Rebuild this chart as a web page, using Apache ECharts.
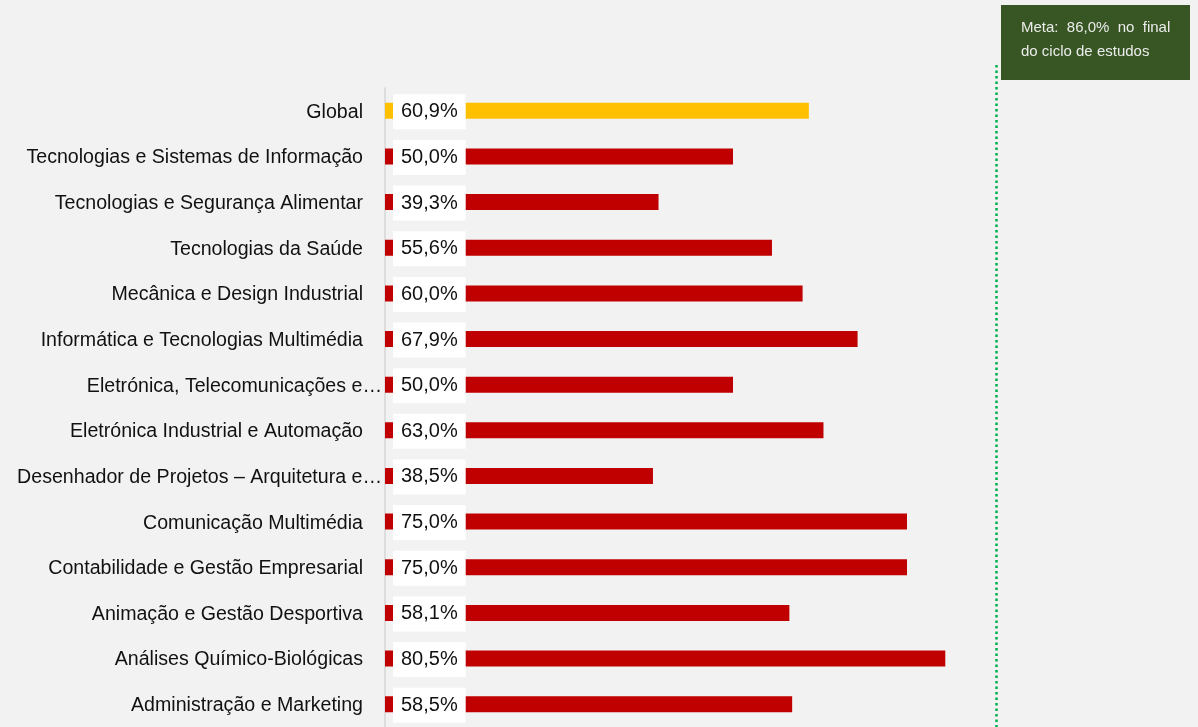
<!DOCTYPE html>
<html>
<head>
<meta charset="utf-8">
<script src="https://cdn.jsdelivr.net/npm/echarts@6/dist/echarts.min.js"></script>
<style>
  html, body {margin: 0; padding: 0; background: #f2f2f2;}
  #chart {width: 1198px; height: 727px;}
</style>
</head>
<body>
<div id="chart"></div>
<script>
const categories = [
  'Global',
  'Tecnologias e Sistemas de Informação',
  'Tecnologias e Segurança Alimentar',
  'Tecnologias da Saúde',
  'Mecânica e Design Industrial',
  'Informática e Tecnologias Multimédia',
  'Eletrónica, Telecomunicações e…',
  'Eletrónica Industrial e Automação',
  'Desenhador de Projetos – Arquitetura e…',
  'Comunicação Multimédia',
  'Contabilidade e Gestão Empresarial',
  'Animação e Gestão Desportiva',
  'Análises Químico-Biológicas',
  'Administração e Marketing'
];
const values = [60.9, 50.0, 39.3, 55.6, 60.0, 67.9, 50.0, 63.0, 38.5, 75.0, 75.0, 58.1, 80.5, 58.5];
const metaTarget = 86.0;
// where the dotted target line sits on the value scale in the picture
const metaLineAt = 87.8;
const metaText = 'Meta:  ' + metaTarget.toFixed(1).replace('.', ',') + '%  no  final\ndo ciclo de estudos';

const fmt = v => v.toFixed(1).replace('.', ',') + '%';

const myChart = echarts.init(document.getElementById('chart'));
myChart.setOption({
  backgroundColor: '#f2f2f2',
  animation: false,
  textStyle: {fontFamily: 'Arial, "Liberation Sans", sans-serif'},
  grid: {left: 385, right: 117, top: 88, bottom: -1},
  xAxis: {
    type: 'value',
    min: 0,
    max: 100,
    show: false
  },
  yAxis: {
    type: 'category',
    inverse: true,
    data: categories,
    axisLine: {show: true, lineStyle: {color: '#d6d6d6', width: 1.5}},
    axisTick: {show: false},
    axisLabel: {
      color: '#111',
      fontSize: 19.6,
      margin: 3,
      padding: [3, 0, 0, 0],
      formatter(v) {
        return v.endsWith('…') ? v : v + '{g|}';
      },
      rich: {g: {width: 19}}
    }
  },
  series: [{
    type: 'bar',
    data: values.map((v, i) => ({
      value: v,
      itemStyle: {color: i === 0 ? '#ffc000' : '#c00000'}
    })),
    barWidth: 16,
    label: {
      show: true,
      position: 'insideLeft',
      distance: 8,
      offset: [0, 1],
      formatter: p => fmt(p.value),
      color: '#111',
      fontSize: 20,
      backgroundColor: '#ffffff',
      padding: [8, 8, 7, 8]
    },
    markLine: {
      silent: true,
      symbol: 'none',
      label: {show: false},
      lineStyle: {color: '#00b050', type: [2.5, 3], width: 2.5},
      data: [[
        {xAxis: metaLineAt, y: 65},
        {xAxis: metaLineAt, y: 727}
      ]]
    }
  }],
  graphic: [{
    type: 'group',
    left: 1001,
    top: 5,
    children: [{
      type: 'rect',
      shape: {x: 0, y: 0, width: 189, height: 75},
      style: {fill: '#375623'}
    }, {
      type: 'text',
      x: 20,
      y: 11,
      style: {
        text: metaText,
        fill: '#ececec',
        font: '15px Arial, "Liberation Sans", sans-serif',
        lineHeight: 24
      }
    }]
  }]
});
</script>
</body>
</html>
